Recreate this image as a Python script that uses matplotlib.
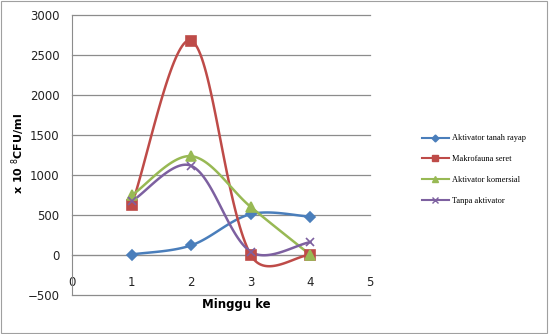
import numpy as np
import matplotlib
matplotlib.use("Agg")
import matplotlib.pyplot as plt
from matplotlib.lines import Line2D

weeks = [1, 2, 3, 4]
tanah_rayap = [5, 120, 510, 480]
makrofauna = [620, 2680, 0, 0]
komersial = [745, 1235, 600, 0]
tanpa = [670, 1115, 40, 160]

labels = ["Aktivator tanah rayap", "Makrofauna seret", "Aktivator komersial", "Tanpa aktivator"]
colors = ["#4a7ebb", "#be4b48", "#98b954", "#7d60a0"]
markers = ["D", "s", "^", "x"]
msizes = [5, 7, 7, 6]

# pixel scale of the axes (for excel-like smoothing done in screen space)
SX, SY = 60.0, 0.08


def smooth(x, y, n=40):
    # cubic bezier through the points, control points from neighbours,
    # shortened a bit when the neighbouring segments differ in length
    p = np.column_stack([np.asarray(x, float) * SX, np.asarray(y, float) * SY])
    p = np.vstack([p[0], p, p[-1]])
    t = np.linspace(0, 1, n)[:, None]
    out = []
    for i in range(1, len(p) - 2):
        a, b = p[i], p[i + 1]
        dp = np.linalg.norm(a - p[i - 1])
        dn = np.linalg.norm(b - a)
        dnn = np.linalg.norm(p[i + 2] - b)
        w1 = 0.5 / 6 + 0.5 / 3 * (dn / (dp + dn) if dp + dn > 0 else 0.5)
        w2 = 0.5 / 6 + 0.5 / 3 * (dn / (dn + dnn) if dn + dnn > 0 else 0.5)
        c1 = a + (b - p[i - 1]) * w1
        c2 = b - (p[i + 2] - a) * w2
        seg = (1 - t) ** 3 * a + 3 * (1 - t) ** 2 * t * c1 + 3 * (1 - t) * t ** 2 * c2 + t ** 3 * b
        out.append(seg)
    out = np.vstack(out)
    return out[:, 0] / SX, out[:, 1] / SY


fig = plt.figure(figsize=(5.49, 3.34), dpi=100)
fig.patches.append(plt.Rectangle((0.002, 0.003), 0.995, 0.994, transform=fig.transFigure,
                                 fill=False, edgecolor="#a0a0a0", lw=0.8))
ax = fig.add_axes([0.131, 0.117, 0.543, 0.838])

series = [tanah_rayap, makrofauna, komersial, tanpa]
handles = []
for vals, lab, c, m, ms in zip(series, labels, colors, markers, msizes):
    sx, sy = smooth(weeks, vals)
    ax.plot(sx, sy, color=c, lw=1.8, zorder=3)
    ax.plot(weeks, vals, ls="none", marker=m, color=c, ms=ms, mew=1.2, zorder=4)
    handles.append(Line2D([], [], color=c, lw=1.5, marker=m, ms=ms * 0.7, mew=1))

ax.set_xlim(0, 5)
ax.set_ylim(-500, 3000)
ax.set_yticks(range(-500, 3001, 500))
ax.set_xticks(range(0, 6))
ax.grid(axis="y", color="#8c8c8c", lw=0.9)
for gl in ax.get_ygridlines():
    gl.set_clip_on(False)
ax.set_axisbelow(True)
for s in ["top", "right"]:
    ax.spines[s].set_visible(False)
ax.spines["left"].set_color("#8c8c8c")
ax.spines["bottom"].set_position(("data", 0))
ax.spines["bottom"].set_color("#8c8c8c")
ax.tick_params(axis="x", length=0, pad=15, labelsize=8.5, colors="#222222")
ax.tick_params(axis="y", length=0, pad=9, labelsize=8.5, colors="#222222")

fig.text(0.033, 0.54, "x 10 $^8$CFU/ml", rotation=90, ha="center", va="center",
         fontsize=8, fontweight="bold")
fig.text(0.43, 0.088, "Minggu ke", ha="center", va="center", fontsize=8.5, fontweight="bold")

fig.legend(handles, labels, loc="upper left", bbox_to_anchor=(0.755, 0.62),
           frameon=False, prop={"family": "Liberation Serif", "size": 6},
           handlelength=3.2, labelspacing=1.55, handletextpad=0.4)

fig.savefig("out.png", dpi=100)
